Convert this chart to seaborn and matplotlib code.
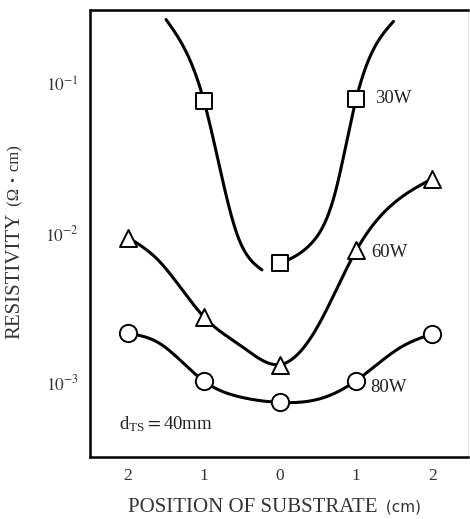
import numpy as np
import pandas as pd
import matplotlib
matplotlib.use("Agg")
import matplotlib.pyplot as plt
import seaborn as sns

# ---- measured points --------------------------------------------------
positions = [-2, -1, 0, 1, 2]
position_labels = ["2", "1", "0", "1", "2"]

rho_30w_x = [-1, 0, 1]
rho_30w = [0.077, 0.0063, 0.080]
rho_60w = [0.0094, 0.00275, 0.00132, 0.0077, 0.0233]
rho_80w = [0.00214, 0.00102, 0.000735, 0.00103, 0.00212]

# ---- hand-drawn trend curves (guide points) ---------------------------
trend30_left_x = [-1.5, -1.0, -0.57, -0.24]
trend30_left_y = [0.273, 0.077, 0.010, 0.0057]
trend30_right_x = [0.0, 0.41, 0.72, 1.0, 1.49]
trend30_right_y = [0.0063, 0.00858, 0.0185, 0.080, 0.265]

trend60_x = [-2.0, -1.6, -1.0, -0.5, 0.0, 0.49, 1.0, 2.0]
trend60_y = [0.0094, 0.0066, 0.00275, 0.00174, 0.00132, 0.00236, 0.0077, 0.0233]

trend80_x = [-2.0, -1.6, -1.0, -0.5, 0.0, 0.58, 1.0, 1.6, 2.0]
trend80_y = [0.00214, 0.00185, 0.00102, 0.000794, 0.000735, 0.000794, 0.00103, 0.00174, 0.00212]

y_ticks = [1e-3, 1e-2, 1e-1]
y_tick_labels = [r"$10^{-3}$", r"$10^{-2}$", r"$10^{-1}$"]


def natural_spline(xk, yk, n=400):
    """Natural cubic spline through the knots, sampled on a dense grid."""
    xk = np.asarray(xk, float)
    yk = np.asarray(yk, float)
    m = len(xk)
    h = np.diff(xk)
    A = np.zeros((m, m))
    r = np.zeros(m)
    A[0, 0] = A[-1, -1] = 1.0
    for i in range(1, m - 1):
        A[i, i - 1] = h[i - 1]
        A[i, i] = 2 * (h[i - 1] + h[i])
        A[i, i + 1] = h[i]
        r[i] = 3 * ((yk[i + 1] - yk[i]) / h[i] - (yk[i] - yk[i - 1]) / h[i - 1])
    c = np.linalg.solve(A, r)
    b = (yk[1:] - yk[:-1]) / h - h * (2 * c[:-1] + c[1:]) / 3
    d = (c[1:] - c[:-1]) / (3 * h)
    xs = np.linspace(xk[0], xk[-1], n)
    idx = np.clip(np.searchsorted(xk, xs) - 1, 0, m - 2)
    t = xs - xk[idx]
    ys = yk[idx] + b[idx] * t + c[idx] * t ** 2 + d[idx] * t ** 3
    return xs, ys


def log_curve(xk, yk):
    xs, ls = natural_spline(xk, np.log10(yk))
    return pd.DataFrame({"x": xs, "y": 10 ** ls})


# ---- style ------------------------------------------------------------
sns.set_theme(style="white")
plt.rcParams["font.family"] = ["Liberation Serif", "Noto Sans CJK JP", "DejaVu Sans"]
plt.rcParams["mathtext.fontset"] = "stix"

fig = plt.figure(figsize=(4.70, 5.19), dpi=100)
ax = fig.add_axes([90 / 470, 1 - 457 / 519, 378 / 470, 447 / 519])

line_kw = dict(color="black", linewidth=2.2, sort=False, estimator=None, legend=False, ax=ax)

curves = [
    log_curve(trend30_left_x, trend30_left_y),
    log_curve(trend30_right_x, trend30_right_y),
    log_curve(trend60_x, trend60_y),
    log_curve(trend80_x, trend80_y),
]
for cv in curves:
    sns.lineplot(data=cv, x="x", y="y", **line_kw)

mk_kw = dict(color="white", edgecolor="black", linewidth=1.4, zorder=5, legend=False, ax=ax)
sns.scatterplot(x=rho_30w_x, y=rho_30w, marker="s", s=135, **mk_kw)
sns.scatterplot(x=positions, y=rho_60w, marker="^", s=150, **mk_kw)
sns.scatterplot(x=positions, y=rho_80w, marker="o", s=155, **mk_kw)

ax.set_yscale("log")
ax.set_ylim(10 ** -3.5, 10 ** -0.5)
ax.set_xlim(-2.5, 2.47)
ax.set_yticks(y_ticks)
ax.set_yticklabels(y_tick_labels)
ax.yaxis.set_minor_locator(matplotlib.ticker.NullLocator())
ax.set_xticks(positions)
ax.set_xticklabels(position_labels)
ax.tick_params(axis="both", direction="in", length=6, width=1.5,
               labelsize=12.5, colors="black", labelcolor="#333333", pad=8)
ax.set_xlabel("")
ax.set_ylabel("")

for side in ["left", "bottom", "top"]:
    ax.spines[side].set_linewidth(1.8)
    ax.spines[side].set_color("black")
ax.spines["right"].set_linewidth(0.6)
ax.spines["right"].set_color("#dddddd")

# series labels
lab_kw = dict(fontsize=13.5, color="#222222", va="center", ha="left")
ax.text(1.25, 0.080, "30W", **lab_kw)
ax.text(1.2, 0.0075, "60W", **lab_kw)
ax.text(1.18, 0.00093, "80W", **lab_kw)
ax.text(-2.12, 10 ** -3.28, r"d$_\mathregular{TS}$$=$40mm", fontsize=13.5,
        color="#222222", va="center", ha="left")

# axis titles with smaller unit parts
fig.canvas.draw()
renderer = fig.canvas.get_renderer()

xl = fig.text(0, 1 - 507 / 519, "POSITION OF SUBSTRATE", fontsize=15,
              color="#333333", va="center", ha="left")
xu = fig.text(0, 1 - 507 / 519, " (cm)", fontsize=11,
              family=["DejaVu Sans"], color="#333333", va="center", ha="left")
w1 = xl.get_window_extent(renderer).width
w2 = xu.get_window_extent(renderer).width
x0 = 273 - (w1 + w2) / 2
xl.set_x(x0 / 470)
xu.set_x((x0 + w1 + 3) / 470)

yl = fig.text(15 / 470, 0, "RESISTIVITY", fontsize=15, rotation=90,
              color="#333333", va="bottom", ha="center")
yu = fig.text(15 / 470, 0, " (Ω・cm)", fontsize=12, rotation=90,
              color="#333333", va="bottom", ha="center")
h1 = yl.get_window_extent(renderer).height
h2 = yu.get_window_extent(renderer).height
ybot = 519 - 243 - (h1 + h2) / 2
yl.set_y(ybot / 519)
yu.set_y((ybot + h1 + 2) / 519)

fig.savefig("out.png", dpi=100, facecolor="white")
